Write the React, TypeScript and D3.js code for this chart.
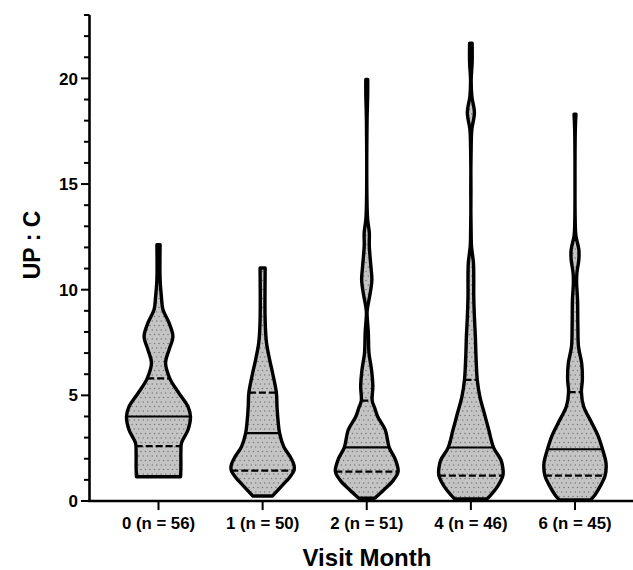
import React, { useEffect, useRef } from 'react'
import * as d3 from 'd3'

// visit months and group sizes
const months = ['0', '1', '2', '4', '6']
const counts = [56, 50, 51, 46, 45]

// quartiles per month
const q1 = [2.6, 1.44, 1.39, 1.2, 1.2]
const medians = [4.0, 3.21, 2.54, 2.53, 2.45]
const q3 = [5.8, 5.13, 4.75, 5.73, 5.15]

// violin outlines: [UP:C value, relative density]
const month0 = [
  [1.15, 0.69], [1.6, 0.7], [2.3, 0.7], [2.75, 0.72], [3.36, 0.92], [4.0, 1.0],
  [4.47, 0.92], [5.1, 0.64], [5.78, 0.36], [6.54, 0.22], [7.16, 0.33], [7.79, 0.45],
  [8.43, 0.33], [9.05, 0.14], [9.68, 0.09], [10.5, 0.05], [12.13, 0.05]
]
const month1 = [
  [0.24, 0.31], [0.68, 0.58], [1.15, 0.86], [1.44, 0.98], [1.7, 0.98], [2.1, 0.86],
  [2.57, 0.66], [3.21, 0.53], [3.84, 0.48], [4.47, 0.45], [5.13, 0.43], [6.07, 0.31],
  [6.68, 0.22], [7.5, 0.12], [8.5, 0.08], [11.03, 0.08]
]
const month2 = [
  [0.13, 0.25], [0.52, 0.53], [1.0, 0.84], [1.39, 0.98], [1.94, 0.9], [2.54, 0.7],
  [3.36, 0.58], [4.0, 0.34], [4.4, 0.25], [4.75, 0.17], [5.42, 0.19], [6.2, 0.15],
  [7.0, 0.07], [7.96, 0.05], [8.9, 0.01], [9.2, 0.03], [9.85, 0.11], [10.47, 0.16],
  [11.1, 0.13], [12.05, 0.08], [12.7, 0.08], [13.3, 0.03], [14.0, 0.01], [18.0, 0.01],
  [19.3, 0.03], [19.95, 0.03]
]
const month4 = [
  [0.1, 0.5], [0.28, 0.62], [0.68, 0.83], [1.2, 1.0], [1.55, 1.0], [1.94, 0.94],
  [2.53, 0.71], [3.36, 0.56], [4.15, 0.42], [4.94, 0.28], [5.73, 0.2], [6.84, 0.16],
  [7.79, 0.14], [8.73, 0.11], [9.68, 0.09], [10.63, 0.09], [11.27, 0.08], [12.05, 0.02],
  [12.5, 0.01], [16.8, 0.01], [17.58, 0.03], [18.38, 0.11], [19.16, 0.03], [19.95, 0.01],
  [20.74, 0.04], [21.66, 0.04]
]
const month6 = [
  [0.05, 0.48], [0.2, 0.58], [0.68, 0.78], [1.2, 0.94], [1.79, 0.97], [2.45, 0.86],
  [3.05, 0.73], [3.68, 0.53], [4.47, 0.27], [5.15, 0.2], [5.73, 0.23], [6.5, 0.21],
  [7.3, 0.11], [8.26, 0.09], [9.5, 0.08], [10.33, 0.05], [10.8, 0.06], [11.42, 0.12],
  [11.9, 0.12], [12.53, 0.03], [13.0, 0.01], [17.6, 0.01], [18.3, 0.03]
]
const profiles = [month0, month1, month2, month4, month6]

const yTicks = [0, 5, 10, 15, 20]
const yMinorTicks = d3.range(1, 24).filter((v) => v % 5 !== 0)

const App: React.FC = () => {
  const svgRef = useRef<SVGSVGElement | null>(null)

  useEffect(() => {
    if (!svgRef.current) return
    d3.select(svgRef.current).selectAll('*').remove()

    const width = 633
    const height = 570
    const font = "'Liberation Sans', Arial, sans-serif"

    const x = d3.scalePoint<string>().domain(months).range([158.5, 575])
    const y = d3.scaleLinear().domain([0, 23]).range([501, 15])
    const w = d3.scaleLinear().domain([0, 1]).range([0, 32])

    const svg = d3
      .select(svgRef.current)
      .attr('width', width)
      .attr('height', height)
      .style('font-family', font)

    // dotted fill
    const pattern = svg
      .append('defs')
      .append('pattern')
      .attr('id', 'dots')
      .attr('patternUnits', 'userSpaceOnUse')
      .attr('width', 9)
      .attr('height', 9)
    pattern.append('rect').attr('width', 9).attr('height', 9).attr('fill', '#c4c4c4')
    ;[[1.5, 1.5], [6, 1.5], [3.75, 6], [8.25, 6]].forEach(([cx, cy]) => {
      pattern
        .append('circle')
        .attr('cx', cx)
        .attr('cy', cy)
        .attr('r', 0.75)
        .attr('fill', '#777')
    })

    // violins
    profiles.forEach((profile, i) => {
      const cx = x(months[i]) as number
      const area = d3
        .area<number[]>()
        .curve(d3.curveCatmullRom.alpha(0.5))
        .y((d) => y(d[0]))
        .x0((d) => cx - w(d[1]))
        .x1((d) => cx + w(d[1]))

      svg
        .append('path')
        .datum(profile)
        .attr('d', area)
        .attr('fill', 'url(#dots)')
        .attr('stroke', '#000')
        .attr('stroke-width', 3.4)
        .attr('stroke-linejoin', 'round')

      const density = d3
        .scaleLinear()
        .domain(profile.map((d) => d[0]))
        .range(profile.map((d) => d[1]))

      const quartiles = [
        { v: q1[i], dash: '7,3', sw: 2.3 },
        { v: medians[i], dash: null, sw: 2.1 },
        { v: q3[i], dash: '7,3', sw: 2.3 }
      ]
      quartiles.forEach((q) => {
        const half = w(density(q.v))
        svg
          .append('line')
          .attr('x1', cx - half)
          .attr('x2', cx + half)
          .attr('y1', y(q.v))
          .attr('y2', y(q.v))
          .attr('stroke', '#000')
          .attr('stroke-width', q.sw)
          .attr('stroke-dasharray', q.dash)
      })
    })

    // y axis
    const yAxis = svg.append('g')
    yAxis
      .append('line')
      .attr('x1', 89.5)
      .attr('x2', 89.5)
      .attr('y1', y(23))
      .attr('y2', y(0) + 1)
      .attr('stroke', '#000')
      .attr('stroke-width', 2.6)
    yAxis
      .selectAll('.minor')
      .data(yMinorTicks)
      .join('line')
      .attr('x1', 84)
      .attr('x2', 89.5)
      .attr('y1', (d) => y(d))
      .attr('y2', (d) => y(d))
      .attr('stroke', '#000')
      .attr('stroke-width', 2)
    yAxis
      .selectAll('.major')
      .data(yTicks)
      .join('g')
      .each(function (d) {
        const g = d3.select(this)
        g.append('line')
          .attr('x1', 81)
          .attr('x2', 89.5)
          .attr('y1', y(d))
          .attr('y2', y(d))
          .attr('stroke', '#000')
          .attr('stroke-width', 2)
        g.append('text')
          .attr('x', 78)
          .attr('y', y(d))
          .attr('dy', '0.36em')
          .attr('text-anchor', 'end')
          .attr('font-size', 17)
          .attr('font-weight', 'bold')
          .text(d)
      })

    // x axis
    const xAxis = svg.append('g')
    xAxis
      .append('line')
      .attr('x1', 88.2)
      .attr('x2', width)
      .attr('y1', y(0))
      .attr('y2', y(0))
      .attr('stroke', '#000')
      .attr('stroke-width', 2.6)
    months.forEach((m, i) => {
      const cx = x(m) as number
      xAxis
        .append('line')
        .attr('x1', cx)
        .attr('x2', cx)
        .attr('y1', y(0))
        .attr('y2', y(0) + 9)
        .attr('stroke', '#000')
        .attr('stroke-width', 2)
      xAxis
        .append('text')
        .attr('x', cx)
        .attr('y', 528.5)
        .attr('text-anchor', 'middle')
        .attr('font-size', 16.8)
        .attr('font-weight', 'bold')
        .text(`${m} (n = ${counts[i]})`)
    })

    // axis titles
    svg
      .append('text')
      .attr('x', 367)
      .attr('y', 566)
      .attr('text-anchor', 'middle')
      .attr('font-size', 24)
      .attr('font-weight', 'bold')
      .text('Visit Month')

    svg
      .append('text')
      .attr('transform', 'translate(40,245) rotate(-90)')
      .attr('text-anchor', 'middle')
      .attr('font-size', 23)
      .attr('font-weight', 'bold')
      .text('UP : C')
  }, [])

  return (
    <div style={{ position: 'absolute', left: 0, top: 0 }}>
      <svg ref={svgRef}></svg>
    </div>
  )
}

export default App
